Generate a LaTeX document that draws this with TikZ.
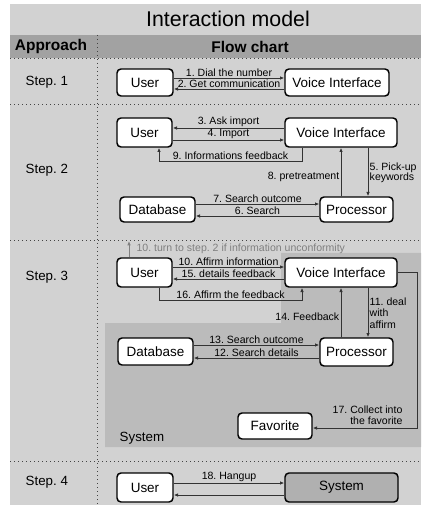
\documentclass[tikz,border=0pt]{standalone}
\usepackage{fontspec}
\setmainfont{Liberation Sans}
\usetikzlibrary{arrows.meta}
\definecolor{bggray}{HTML}{D2D2D2}
\definecolor{headgray}{HTML}{A2A2A2}
\definecolor{sysgray}{HTML}{BBBBBB}
\definecolor{sysbox}{HTML}{B0B0B0}
\definecolor{linegray}{HTML}{333333}
\definecolor{dotgray}{HTML}{444444}
\definecolor{notegray}{HTML}{808080}

\begin{document}
\frenchspacing
\begin{tikzpicture}[x=0.75pt,y=-0.75pt,
  sz/.style 2 args={minimum width=#1*0.75pt,minimum height=#2*0.75pt},
  box/.style={draw,line width=1.1pt,rounded corners=3pt,fill=white,inner sep=0pt,font=\fontsize{10.1}{12}\selectfont},
  lbl/.style={inner sep=1pt,font=\fontsize{7.9}{8.5}\selectfont},
  flow/.style={draw=linegray,line width=0.6pt,-{Latex[length=3.2pt,width=2.6pt]}},
  sepline/.style={draw=dotgray,line width=0.7pt,dash pattern=on 0.8pt off 2.2pt}]
\useasboundingbox (0,0) rectangle (421,505);
% background
\fill[bggray] (10,4) rectangle (421,505);
\fill[headgray] (10,35) rectangle (421,58);
\fill[sysgray] (105,323) -- (281,323) -- (281,253) -- (421,253) -- (421,447) -- (105,447) -- cycle;
\draw[sepline] (10,58) -- (421,58);
\draw[sepline] (10,104) -- (421,104);
\draw[sepline] (10,240) -- (421,240);
\draw[sepline] (10,461) -- (421,461);
\draw[sepline] (97,35) -- (97,505);

\node (title) at (228,19) {\fontsize{16}{18}\selectfont Interaction model};
\node [font=\bfseries\fontsize{11.6}{13}\selectfont] (appr) at (51,47) {Approach};
\node [font=\bfseries\fontsize{11.6}{13}\selectfont] (chart) at (250,47) {Flow chart};
\node [anchor=west,font=\fontsize{10}{12}\selectfont] (st1) at (21,82) {Step. 1};
\node [anchor=west,font=\fontsize{10}{12}\selectfont] (st2) at (21,170) {Step. 2};
\node [anchor=west,font=\fontsize{10}{12}\selectfont] (st3) at (21,277) {Step. 3};
\node [anchor=west,font=\fontsize{10}{12}\selectfont] (st4) at (21,482) {Step. 4};
\node [anchor=west,font=\fontsize{10}{12}\selectfont] (sysl) at (115,438) {System};

% step 1
\node [box,sz={56}{27}] (u1) at (145,82.5) {User};
\node [box,sz={104}{27}] (vi1) at (337,82.5) {Voice Interface};
\draw[flow] (u1.east |- 0,78) -- (vi1.west |- 0,78) node [lbl,midway,above] (l1) {1. Dial the number};
\draw[flow] (vi1.west |- 0,89) -- (u1.east |- 0,89) node [lbl,midway,above] (l2) {2. Get communication};

% step 2
\node [box,sz={55}{29}] (u2) at (144.5,132.5) {User};
\node [box,sz={112}{29}] (vi2) at (341,132.5) {Voice Interface};
\node [box,sz={75}{25}] (db2) at (157.5,209.5) {Database};
\node [box,sz={73}{25}] (pr2) at (356.5,209.5) {Processor};
\draw[flow] (vi2.west |- 0,128) -- (u2.east |- 0,128) node [lbl,midway,above] (l3) {3. Ask import};
\draw[flow] (u2.east |- 0,140) -- (vi2.west |- 0,140) node [lbl,midway,above] (l4) {4. Import};
\draw[flow] (302,0 |- vi2.south) -- (302,161) -- (159,161) node [lbl,midway,above] (l9) {9. Informations feedback} -- (159,0 |- u2.south);
\draw[flow] (368,0 |- vi2.south) -- (368,0 |- pr2.north) node [lbl,pos=0.52,right,align=left,font=\fontsize{7.9}{7.5}\selectfont] (l5) {5. Pick-up\\keywords};
\draw[flow] (341,0 |- pr2.north) -- (341,0 |- vi2.south) node [lbl,pos=0.4,left] (l8) {8. pretreatment};
\draw[flow] (pr2.west |- 0,216) -- (db2.east |- 0,216) node [lbl,midway,above] (l6) {6. Search};
\draw[flow] (db2.east |- 0,204) -- (pr2.west |- 0,204) node [lbl,midway,above] (l7) {7. Search outcome};

% step 3
\node [box,sz={55}{29}] (u3) at (144.5,272.5) {User};
\node [box,sz={112}{29}] (vi3) at (341,272.5) {Voice Interface};
\node [box,sz={75}{27}] (db3) at (155.5,351.5) {Database};
\node [box,sz={73}{28}] (pr3) at (356.5,352) {Processor};
\node [box,sz={74}{26}] (fav) at (275,426) {Favorite};
\draw[flow,draw=notegray] (129,0 |- u3.north) -- (129,241);
\node [lbl,anchor=west,text=notegray] (l10b) at (135,249) {10. turn to step. 2 if information unconformity};
\draw[flow] (u3.east |- 0,267) -- (vi3.west |- 0,267) node [lbl,midway,above] (l10) {10. Affirm information};
\draw[flow] (vi3.west |- 0,279) -- (u3.east |- 0,279) node [lbl,midway,above] (l15) {15. details feedback};
\draw[flow] (159,0 |- u3.south) -- (159,300) -- (302,300) node [lbl,midway,above] (l16) {16. Affirm the feedback} -- (302,0 |- vi3.south);
\draw[flow] (368,0 |- vi3.south) -- (368,0 |- pr3.north) node [lbl,pos=0.51,right,align=left] (l11) {11. deal\\with\\affirm};
\draw[flow] (341,0 |- pr3.north) -- (341,0 |- vi3.south) node [lbl,pos=0.41,left] (l14) {14. Feedback};
\draw[flow] (db3.east |- 0,345) -- (pr3.west |- 0,345) node [lbl,midway,above] (l13) {13. Search outcome};
\draw[flow] (pr3.west |- 0,358) -- (db3.east |- 0,358) node [lbl,midway,above] (l12) {12. Search details};
\draw[flow] (vi3.east) -- (417,0 |- vi3.east) -- (417,428) -- (fav.east |- 0,428);
\node [lbl,anchor=east,align=right] (l17) at (404,415.5) {17. Collect into\\the favorite};

% step 4
\node [box,sz={56}{29}] (u4) at (145,487.5) {User};
\node [box,sz={113}{29},fill=sysbox] (sys) at (341.5,487.5) {System};
\draw[flow] (u4.east |- 0,483) -- (sys.west |- 0,483) node [lbl,midway,above] (l18) {18. Hangup};
\draw[flow] (sys.west |- 0,495) -- (u4.east |- 0,495);
\end{tikzpicture}
\end{document}
